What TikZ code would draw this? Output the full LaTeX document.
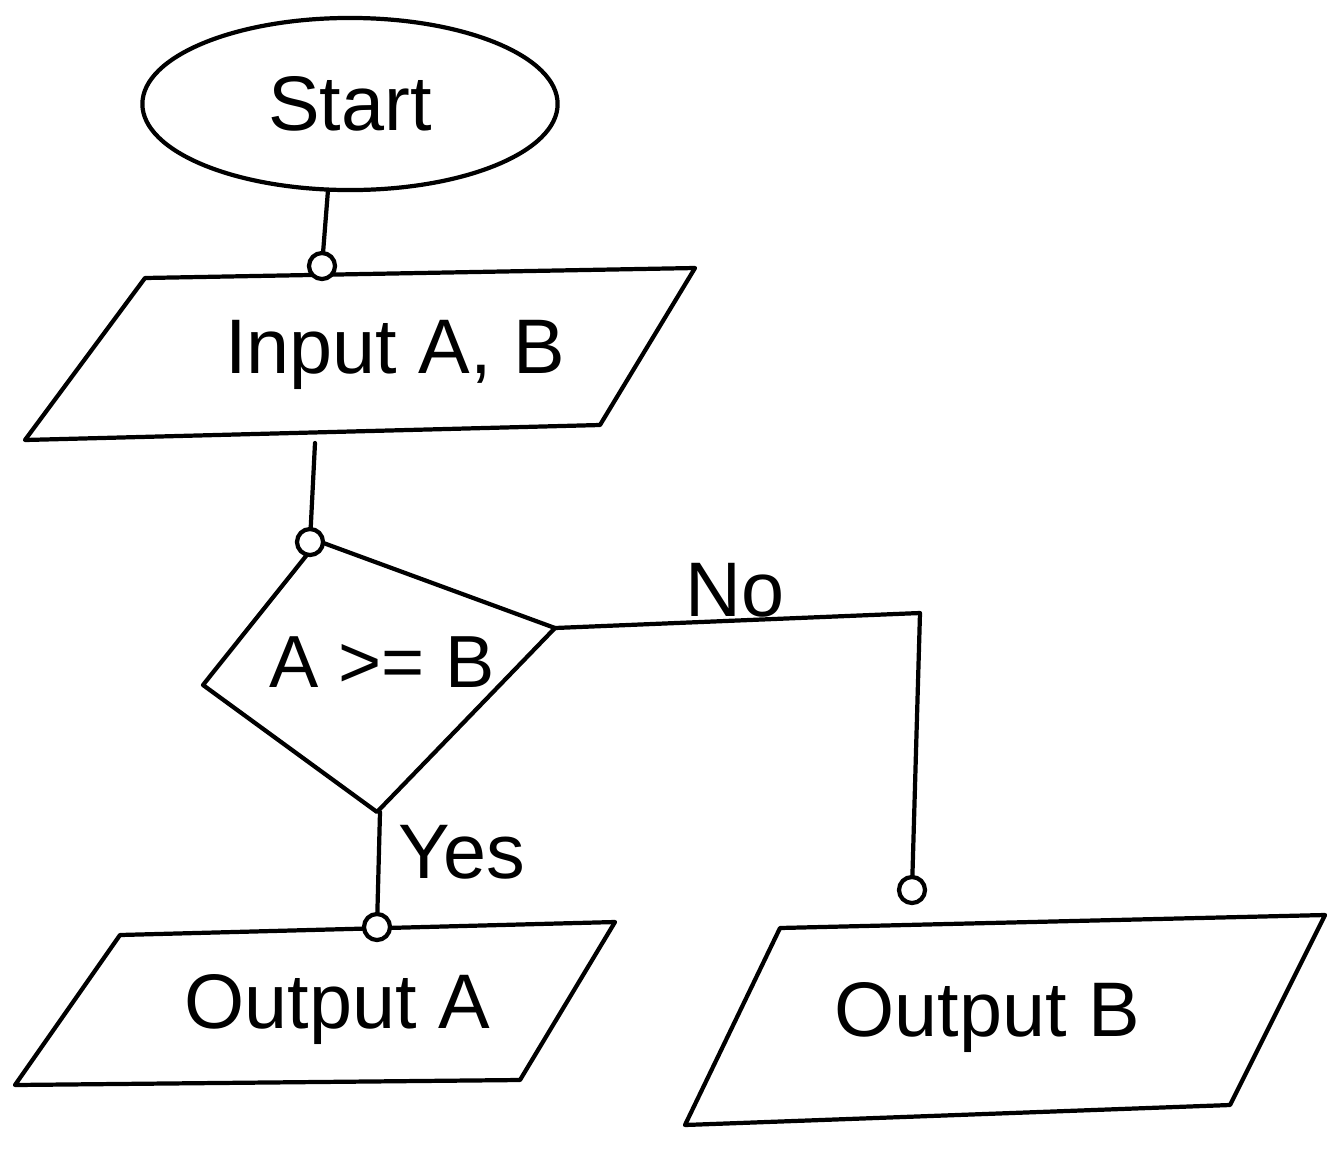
\documentclass[tikz,border=0pt]{standalone}
\usepackage{fontspec}
\setmainfont{Liberation Sans}
\usetikzlibrary{shapes.geometric}
\begin{document}
\begin{tikzpicture}[x=0.01cm,y=-0.01cm,line width=1.2pt,line join=round,line cap=round]
\tikzset{
  lbl/.style={font=\fontsize{22}{26}\selectfont, inner sep=0pt},
  small/.style={font=\fontsize{21}{25}\selectfont, inner sep=0pt},
  port/.style={circle, draw, fill=white, inner sep=0pt, minimum size=0.26cm, line width=1.2pt},
  outline/.style={draw, line width=1.2pt}
}
\useasboundingbox (0,0) rectangle (1333,1148);

% start terminal
\node[draw, ellipse, minimum width=4.15cm, minimum height=1.72cm, lbl] (start) at (350,104) {Start};

% input parallelogram
\coordinate (in1) at (145,278); \coordinate (in2) at (695,268);
\coordinate (in3) at (600,425); \coordinate (in4) at (25,440);
\draw[outline] (in1) -- (in2) -- (in3) -- (in4) -- cycle;
\node[lbl] (input) at (395,355) {Input A, B};

% decision diamond
\coordinate (dt) at (318,541); \coordinate (dr) at (555,628);
\coordinate (db) at (377,812); \coordinate (dl) at (203,685);
\draw[outline] (dt) -- (dr) -- (db) -- (dl) -- cycle;
\node[small] (cond) at (382,662) {A >= B};

% output A
\coordinate (oa1) at (120,935); \coordinate (oa2) at (615,922);
\coordinate (oa3) at (520,1080); \coordinate (oa4) at (15,1085);
\draw[outline] (oa1) -- (oa2) -- (oa3) -- (oa4) -- cycle;
\node[lbl] (outA) at (337,1010) {Output A};

% output B
\coordinate (ob1) at (780,928); \coordinate (ob2) at (1325,915);
\coordinate (ob3) at (1230,1105); \coordinate (ob4) at (685,1125);
\draw[outline] (ob1) -- (ob2) -- (ob3) -- (ob4) -- cycle;
\node[lbl] (outB) at (987,1018) {Output B};

% connection points
\coordinate (sOut) at (328,190);
\coordinate (inIn) at (322,266);
\coordinate (inOut) at (315,443);
\coordinate (dIn) at (310,542);
\coordinate (noCorner) at (920,613);
\coordinate (obIn) at (912,890);
\coordinate (yesOut) at (380,812);
\coordinate (oaIn) at (377,927);

% connectors
\draw (sOut) -- (inIn);
\node[port] (p1) at (inIn) {};
\draw (inOut) -- (dIn);
\node[port] (p2) at (dIn) {};
\draw (dr) -- (noCorner) -- (obIn);
\node[port] (p3) at (obIn) {};
\draw (yesOut) -- (oaIn);
\node[port] (p4) at (oaIn) {};

% branch labels
\node[lbl] (no) at (735,590) {No};
\node[lbl] (yes) at (462,852) {Yes};
\end{tikzpicture}
\end{document}
